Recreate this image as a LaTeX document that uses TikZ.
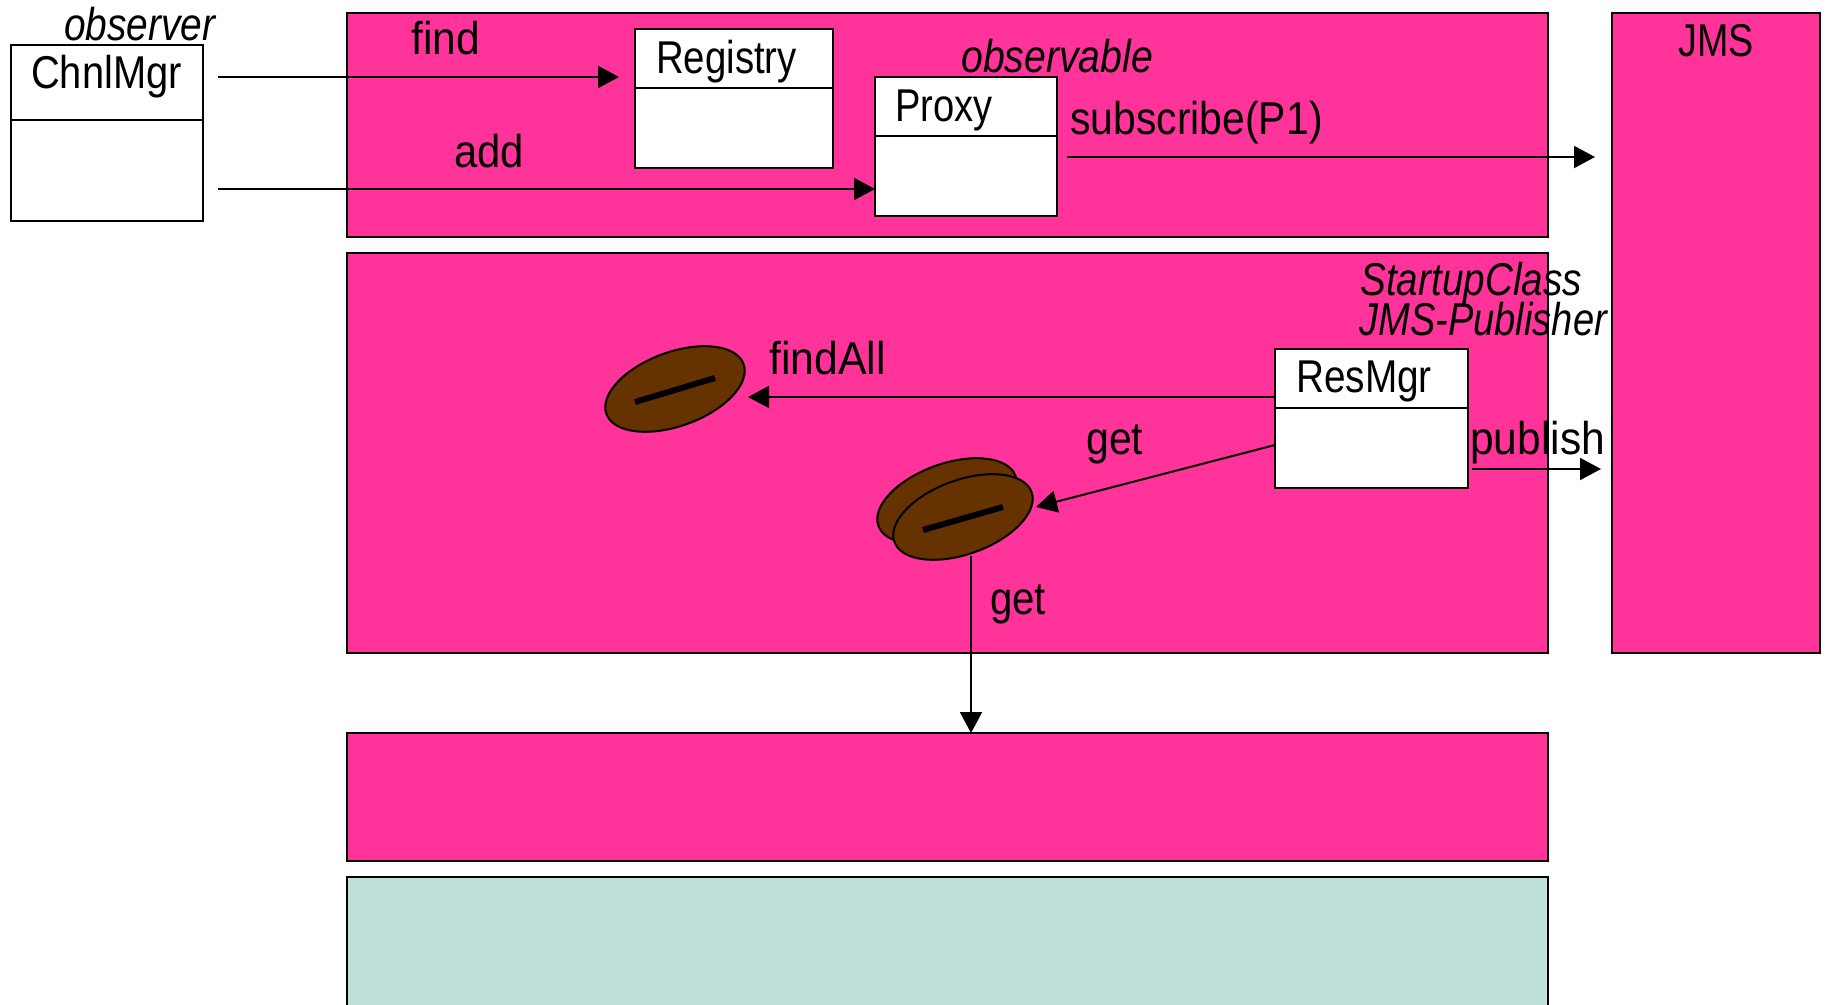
\documentclass[tikz,border=0pt]{standalone}
\usepackage{fontspec}
\setmainfont[FakeStretch=0.82]{Liberation Sans}
\usetikzlibrary{arrows.meta,shapes.geometric}
\definecolor{panelpink}{HTML}{FF3399}
\definecolor{panelteal}{HTML}{BFE0D9}
\definecolor{beanbrown}{HTML}{663300}
\begin{document}
\begin{tikzpicture}[x=1pt,y=-1pt,
  panel/.style={draw, line width=2pt, fill=panelpink, anchor=north west, inner sep=0pt, outer sep=0pt},
  boxpart/.style={draw, line width=2pt, fill=white, anchor=north west, inner sep=0pt, outer sep=0pt},
  lbl/.style={anchor=base west, inner sep=0pt, font=\fontsize{46}{50}\selectfont},
  lblit/.style={lbl, font=\fontsize{46}{50}\selectfont\itshape},
  bean/.style={ellipse, draw, line width=2pt, fill=beanbrown, inner sep=0pt, minimum width=146pt, minimum height=74pt, rotate=20},
  slash/.style={line width=6pt},
  arr/.style={line width=2pt, -{Triangle[length=21pt,width=22pt]}}]
\useasboundingbox (0,0) rectangle (1828,1004);
\node[panel, minimum width=1201pt, minimum height=224pt] (panelA) at (347,13){};
\node[panel, minimum width=1201pt, minimum height=400pt] (panelB) at (347,253){};
\node[panel, minimum width=1201pt, minimum height=128pt] (panelC) at (347,733){};
\node[panel, fill=panelteal, minimum width=1201pt, minimum height=150pt] (panelD) at (347,877){};
\node[panel, minimum width=208pt, minimum height=640pt] (panelJms) at (1612,13){};
\node[boxpart, minimum width=192pt, minimum height=75pt] (chnlHead) at (11,45){};
\node[boxpart, minimum width=192pt, minimum height=101pt] (chnlBody) at (11,120){};
\node[boxpart, minimum width=198pt, minimum height=59pt] (regHead) at (635,29){};
\node[boxpart, minimum width=198pt, minimum height=80pt] (regBody) at (635,88){};
\node[boxpart, minimum width=182pt, minimum height=59pt] (proxyHead) at (875,77){};
\node[boxpart, minimum width=182pt, minimum height=80pt] (proxyBody) at (875,136){};
\node[boxpart, minimum width=193pt, minimum height=59pt] (resHead) at (1275,349){};
\node[boxpart, minimum width=193pt, minimum height=80pt] (resBody) at (1275,408){};
\node[bean] (beanA) at (675,389){};
\node[bean] (beanBack) at (947,501){};
\node[bean] (beanFront) at (963,517){};
\coordinate (slashA0) at (635,402);
\coordinate (slashA1) at (715,378);
\coordinate (slashB0) at (923,530);
\coordinate (slashB1) at (1003,507);
\draw[slash](slashA0) -- (slashA1);
\draw[slash](slashB0) -- (slashB1);
\coordinate (findStart) at (218,77);
\coordinate (findEnd) at (619,77);
\coordinate (addStart) at (218,189);
\coordinate (subStart) at (1067,157);
\coordinate (subEnd) at (1595,157);
\coordinate (findAllEnd) at (748,397);
\coordinate (getStart) at (1275,445);
\coordinate (getEnd) at (1036,507);
\coordinate (getDown) at (971,556);
\coordinate (pubStart) at (1472,469);
\coordinate (pubEnd) at (1601,469);
\draw[arr](findStart) -- (findEnd);
\draw[arr](addStart) -- (addStart -| proxyBody.west);
\draw[arr](subStart) -- (subEnd);
\draw[arr](findAllEnd -| resHead.west) -- (findAllEnd);
\draw[arr](getStart) -- (getEnd);
\draw[arr](getDown) -- (getDown |- panelC.north);
\draw[arr](pubStart) -- (pubEnd);
\node[lblit, xscale=1.03] (lblObserver) at (64,40){observer};
\node[lbl, xscale=1.057] (lblChnl) at (31,88){ChnlMgr};
\node[lbl, xscale=1.13] (lblFind) at (411,54){find};
\node[lbl, xscale=1.11] (lblAdd) at (454,167){add};
\node[lbl, xscale=1.017] (lblReg) at (656,73){Registry};
\node[lblit, xscale=1.04] (lblObservable) at (961,72){observable};
\node[lbl, xscale=1.01] (lblProxy) at (895,121){Proxy};
\node[lbl, xscale=1.085] (lblSub) at (1070,134){subscribe(P1)};
\node[lbl] (lblJms) at (1678,56){JMS};
\node[lblit, xscale=1.027] (lblStartup) at (1360,295){StartupClass};
\node[lblit, xscale=1.01] (lblPub) at (1359,335){JMS-Publisher};
\node[lbl, xscale=1.027] (lblRes) at (1296,392){ResMgr};
\node[lbl, xscale=1.127] (lblPublish) at (1470,454){publish};
\node[lbl, xscale=1.136] (lblFindAll) at (769,374){findAll};
\node[lbl, xscale=1.087] (lblGetA) at (1086,454){get};
\node[lbl, xscale=1.065] (lblGetB) at (990,614){get};
\end{tikzpicture}
\end{document}
